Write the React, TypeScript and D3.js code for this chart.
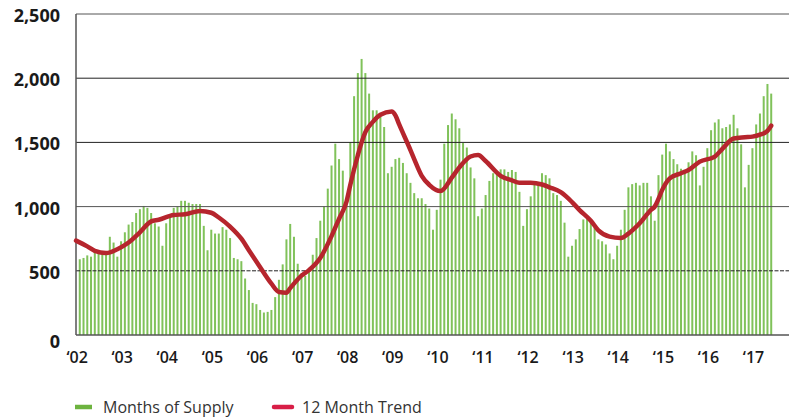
import * as d3 from 'd3';

// monthly inventory, Jan 2002 .. May 2017
const supply2002 = [590, 600, 620, 610, 650, 655, 650, 640, 765, 720, 610, 730];
const supply2003 = [800, 860, 880, 950, 980, 1005, 990, 950, 870, 845, 695, 870];
const supply2004 = [935, 990, 1000, 1045, 1045, 1030, 1020, 1020, 1020, 850, 660, 820];
const supply2005 = [790, 790, 840, 820, 755, 600, 590, 575, 440, 350, 250, 240];
const supply2006 = [195, 175, 180, 195, 295, 430, 550, 745, 865, 765, 555, 480];
const supply2007 = [460, 510, 625, 755, 890, 1000, 1140, 1320, 1490, 1370, 1280, 1020];
const supply2008 = [1500, 1860, 2040, 2150, 2040, 1880, 1750, 1750, 1705, 1620, 1260, 1310];
const supply2009 = [1370, 1380, 1340, 1260, 1185, 1105, 1065, 1065, 1020, 985, 820, 975];
const supply2010 = [1210, 1490, 1635, 1725, 1680, 1610, 1495, 1460, 1305, 1220, 925, 985];
const supply2011 = [1090, 1200, 1260, 1270, 1290, 1290, 1270, 1285, 1270, 1115, 850, 980];
const supply2012 = [1080, 1170, 1170, 1260, 1245, 1220, 1105, 1090, 1045, 875, 610, 695];
const supply2013 = [745, 825, 900, 920, 900, 835, 745, 730, 705, 635, 590, 695];
const supply2014 = [820, 975, 1150, 1175, 1185, 1165, 1185, 1185, 1080, 890, 1245, 1405];
const supply2015 = [1490, 1430, 1370, 1330, 1295, 1280, 1345, 1430, 1400, 1165, 1310, 1455];
const supply2016 = [1595, 1655, 1680, 1610, 1620, 1640, 1715, 1610, 1485, 1150, 1325, 1455];
const supply2017 = [1640, 1725, 1860, 1955, 1880];

const supply = [
  ...supply2002, ...supply2003, ...supply2004, ...supply2005, ...supply2006, ...supply2007,
  ...supply2008, ...supply2009, ...supply2010, ...supply2011, ...supply2012, ...supply2013,
  ...supply2014, ...supply2015, ...supply2016, ...supply2017,
];

// 12 month trend (month index from Jan 2002)
const trendMonth = [
  -1, 2, 4, 7, 10, 13, 16, 19, 21, 25, 28, 32, 35, 37, 40, 43, 45, 48, 51, 53, 55, 56, 59, 61,
  64, 67, 69, 71, 72, 74, 75, 76, 78, 80, 83, 84, 85, 88, 89, 91, 93, 96, 99, 101, 104, 106,
  108, 112, 115, 117, 120, 123, 125, 128, 131, 133, 136, 138, 141, 144, 146, 149, 152, 153,
  154, 155, 157, 160, 162, 165, 169, 171, 174, 177, 179, 181, 183, 184,
];
const trendValue = [
  735, 690, 655, 638, 668, 720, 800, 885, 898, 935, 940, 966, 952, 915, 844, 750, 660, 528, 400,
  335, 330, 365, 462, 505, 600, 770, 905, 1040, 1170, 1400, 1500, 1580, 1660, 1715, 1740, 1710,
  1640, 1440, 1370, 1240, 1170, 1121, 1225, 1305, 1390, 1402, 1355, 1240, 1205, 1186, 1186,
  1172, 1150, 1112, 1035, 973, 890, 815, 766, 755, 790, 870, 975, 1000, 1060, 1130, 1220, 1260,
  1285, 1350, 1390, 1450, 1530, 1540, 1545, 1560, 1590, 1630,
];

const yearLabels = ['02', '03', '04', '05', '06', '07', '08', '09', '10', '11', '12', '13', '14', '15', '16', '17'];
const yTicks = [0, 500, 1000, 1500, 2000, 2500];

const FONT = '"Open Sans", "DejaVu Sans", sans-serif';

export default function App() {
  const x = d3.scaleLinear().domain([-1, 189]).range([76, 790]);
  const y = d3.scaleLinear().domain([0, 2500]).range([335, 14]);

  const trendPath = d3.line<number>()
    .x(d => x(d))
    .y((d, i) => y(trendValue[i]))
    .curve(d3.curveMonotoneX)(trendMonth);

  return (
    <svg width={789} height={420} style={{ position: 'absolute', left: 0, top: 0, background: '#fff' }}>
      {/* bars */}
      {supply.map((v, i) => (
        <rect key={i} x={x(i) - 1} y={y(v)} width={2} height={y(0) - y(v)} fill="#80c25a" />
      ))}

      {/* grid */}
      {yTicks.map(t => (
        <line
          key={t}
          x1={76}
          x2={789}
          y1={y(t)}
          y2={y(t)}
          stroke={t === 0 || t === 2500 || t === 1000 ? '#555' : '#222'}
          strokeWidth={t === 0 ? 1.5 : 1}
          strokeDasharray={t === 500 ? '4,1.5' : undefined}
        />
      ))}
      <line x1={76} x2={76} y1={y(2500)} y2={y(0)} stroke="#555" strokeWidth={1.5} />

      {/* trend */}
      <path d={trendPath ?? ''} fill="none" stroke="#b6252d" strokeWidth={4.5} strokeLinejoin="round" strokeLinecap="round" />

      {/* y labels */}
      {yTicks.map(t => (
        <text
          key={t}
          x={60}
          y={y(t) + (t === 0 ? 13 : 8)}
          textAnchor="end"
          fontFamily={FONT}
          fontSize={18}
          fontWeight={700}
          fill="#1a1a1a"
        >
          {d3.format(',')(t)}
        </text>
      ))}

      {/* x labels */}
      {yearLabels.map((yr, k) => (
        <text
          key={yr}
          x={x(12 * k - 0.7)}
          y={363}
          textAnchor="middle"
          fontFamily={FONT}
          fontSize={16}
          fontWeight={600}
          fill="#1a1a1a"
        >
          {'\u2018' + yr}
        </text>
      ))}

      {/* legend */}
      <line x1={75} x2={92} y1={407} y2={407} stroke="#6db33f" strokeWidth={4.5} />
      <text x={103} y={413} fontFamily={FONT} fontSize={16} fill="#333">Months of Supply</text>
      <line x1={274} x2={292} y1={407} y2={407} stroke="#d81e47" strokeWidth={4.5} strokeLinecap="round" />
      <text x={302} y={413} fontFamily={FONT} fontSize={16} fill="#333">12 Month Trend</text>
    </svg>
  );
}
